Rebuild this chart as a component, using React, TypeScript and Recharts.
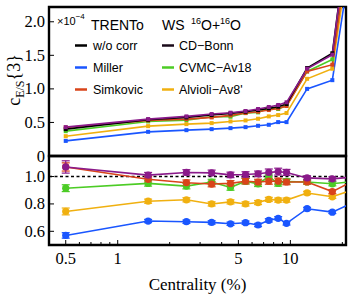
import React from 'react';
import { LineChart, Line, XAxis, YAxis, ReferenceLine, ReferenceArea, ErrorBar } from 'recharts';

// ---------- data ----------
const centrality = [0.5, 1.5, 2.5, 3.5, 4.5, 5.5, 6.5, 7.5, 8.5, 9.5, 12.5, 17.5, 25];

// c_{E/S}{3} (x 1e-4)
const cWoCorr = [0.40, 0.54, 0.575, 0.61, 0.635, 0.66, 0.685, 0.71, 0.735, 0.775, 1.31, 1.53, 4.6];
const cCDBonn = [0.43, 0.55, 0.59, 0.625, 0.645, 0.67, 0.70, 0.73, 0.76, 0.80, 1.30, 1.51, 4.6];
const cSimkovic = [0.425, 0.53, 0.55, 0.575, 0.605, 0.64, 0.66, 0.685, 0.71, 0.745, 1.26, 1.36, 4.3];
const cCVMC = [0.37, 0.515, 0.535, 0.585, 0.585, 0.64, 0.65, 0.71, 0.70, 0.75, 1.26, 1.44, 4.3];
const cAlvioli = [0.295, 0.445, 0.475, 0.49, 0.515, 0.53, 0.555, 0.59, 0.61, 0.64, 1.15, 1.30, 4.0];
const cMiller = [0.225, 0.36, 0.385, 0.40, 0.415, 0.43, 0.45, 0.465, 0.505, 0.505, 1.00, 1.13, 3.7];

// ratio to w/o corr
const rCDBonn = [1.07, 1.01, 1.03, 1.027, 1.012, 1.015, 1.02, 1.03, 1.036, 1.03, 0.99, 0.983, 1.0];
const rSimkovic = [1.07, 0.98, 0.955, 0.945, 0.95, 0.966, 0.96, 0.966, 0.966, 0.96, 0.96, 0.89, 0.99];
const rCVMC = [0.915, 0.95, 0.93, 0.96, 0.92, 0.966, 0.947, 0.998, 0.95, 0.964, 0.96, 0.947, 0.97];
const rAlvioli = [0.745, 0.82, 0.83, 0.80, 0.815, 0.80, 0.81, 0.833, 0.828, 0.828, 0.88, 0.852, 0.92];
const rMiller = [0.57, 0.675, 0.67, 0.665, 0.655, 0.663, 0.646, 0.68, 0.695, 0.658, 0.765, 0.74, 0.83];

// ratio errors
const eCDBonn = [0.045, 0.02, 0.02, 0.02, 0.02, 0.02, 0.02, 0.025, 0.025, 0.022, 0.015, 0.015, 0.02];
const eSimkovic = [0.03, 0.02, 0.02, 0.02, 0.02, 0.02, 0.02, 0.022, 0.022, 0.02, 0.015, 0.015, 0.02];
const eCVMC = [0.025, 0.02, 0.02, 0.02, 0.02, 0.02, 0.02, 0.02, 0.02, 0.02, 0.015, 0.015, 0.02];
const eAlvioli = [0.025, 0.015, 0.015, 0.015, 0.015, 0.015, 0.015, 0.015, 0.015, 0.015, 0.012, 0.012, 0.015];
const eMiller = [0.02, 0.012, 0.012, 0.012, 0.012, 0.012, 0.012, 0.012, 0.012, 0.012, 0.01, 0.01, 0.012];

const yTicksTop = [0, 0.5, 1.0, 1.5, 2.0];
const yTicksRatio = [0.6, 0.8, 1.0];
const xTicks = [0.4, 0.5, 0.6, 0.7, 0.8, 0.9, 1, 2, 3, 4, 5, 6, 7, 8, 9, 10, 20];
const xLabels = [0.5, 1, 5, 10];

// ---------- styling ----------
const COLORS = {
  woCorr: '#000000',
  cdBonn: '#8a1a8a',
  miller: '#1a56ff',
  simkovic: '#d9441a',
  cvmc: '#4ccc25',
  alvioli: '#f0b010',
};

const series = [
  { key: 'miller', name: 'Miller', color: COLORS.miller, c: cMiller, r: rMiller, e: eMiller },
  { key: 'alvioli', name: "Alvioli\u2212Av8'", color: COLORS.alvioli, c: cAlvioli, r: rAlvioli, e: eAlvioli },
  { key: 'cvmc', name: 'CVMC\u2212Av18', color: COLORS.cvmc, c: cCVMC, r: rCVMC, e: eCVMC },
  { key: 'simkovic', name: 'Simkovic', color: COLORS.simkovic, c: cSimkovic, r: rSimkovic, e: eSimkovic },
  { key: 'woCorr', name: 'w/o corr', color: COLORS.woCorr, c: cWoCorr, r: null as number[] | null, e: null as number[] | null },
  { key: 'cdBonn', name: 'CD\u2212Bonn', color: COLORS.cdBonn, c: cCDBonn, r: rCDBonn, e: eCDBonn },
];

const legendCol1 = [
  { name: 'w/o corr', color: COLORS.woCorr },
  { name: 'Miller', color: COLORS.miller },
  { name: 'Simkovic', color: COLORS.simkovic },
];
const legendCol2 = [
  { name: 'CD\u2212Bonn', color: '#1a0a1a' },
  { name: 'CVMC\u2212Av18', color: COLORS.cvmc },
  { name: "Alvioli\u2212Av8'", color: COLORS.alvioli },
];

const topData = centrality.map((x, i) => {
  const row: any = { x };
  series.forEach((s) => { row[s.key] = s.c[i]; });
  return row;
});

const ratioData = centrality.map((x, i) => {
  const row: any = { x };
  series.forEach((s) => {
    if (s.r && s.e) {
      row[s.key] = s.r[i];
      row[s.key + '_err'] = s.e[i];
    }
  });
  return row;
});

const SERIF = '"Liberation Serif", "Times New Roman", serif';
const SANS = '"Liberation Sans", Arial, sans-serif';
const TICK_FS = 16.5;

const fmt = (v: number) => (v === 0 ? '0' : v.toFixed(1));

const YTick = (props: any) => {
  const { x, y, payload } = props;
  return (
    <g>
      <line x1={x} x2={x + 5} y1={y} y2={y} stroke="#000" strokeWidth={1} />
      <text x={x - 4} y={y} dy={5.5} textAnchor="end" fontFamily={SERIF} fontSize={TICK_FS} fill="#000">
        {fmt(payload.value)}
      </text>
    </g>
  );
};

const XTick = (props: any) => {
  const { x, y, payload } = props;
  const major = xLabels.includes(payload.value);
  return (
    <g>
      <line x1={x} x2={x} y1={y} y2={y - (major ? 5 : 3)} stroke="#000" strokeWidth={1} />
      {major && (
        <text x={x} y={y} dy={19} textAnchor="middle" fontFamily={SERIF} fontSize={TICK_FS} fill="#000">
          {String(payload.value)}
        </text>
      )}
    </g>
  );
};

const squareDot = (color: string) => (p: any) => {
  const { cx, cy, index } = p;
  if (cx == null || cy == null) return <g key={index} />;
  return <rect key={index} x={cx - 2} y={cy - 2} width={4} height={4} fill={color} />;
};

const circleDot = (color: string) => (p: any) => {
  const { cx, cy, index } = p;
  if (cx == null || cy == null) return <g key={index} />;
  return <circle key={index} cx={cx} cy={cy} r={3.6} fill={color} />;
};

const X_DOMAIN: [number, number] = [0.4, 21];
const TOP_Y: [number, number] = [0, 2.22];
const RATIO_Y: [number, number] = [0.5, 1.15];

export default function App() {
  return (
    <div style={{ position: 'absolute', left: 0, top: 0, width: 348, height: 296, background: '#fff' }}>
      <div style={{ position: 'absolute', left: 0, top: 0 }}>
        <LineChart width={348} height={170} data={topData} margin={{ top: 7, right: 2, bottom: 14, left: 0 }}>
          <XAxis
            dataKey="x"
            type="number"
            scale="log"
            domain={X_DOMAIN}
            allowDataOverflow
            ticks={xTicks}
            height={0}
            tick={false}
            axisLine={false}
            tickLine={false}
          />
          <YAxis
            type="number"
            domain={TOP_Y}
            allowDataOverflow
            ticks={yTicksTop}
            width={49}
            axisLine={false}
            tickLine={false}
            tickSize={0}
            tickMargin={0}
            tick={<YTick />}
            interval={0}
          />
          {series.map((s) => (
            <Line
              key={s.key}
              dataKey={s.key}
              stroke={s.color}
              strokeWidth={1.6}
              dot={squareDot(s.color)}
              isAnimationActive={false}
            />
          ))}
          <ReferenceArea x1={X_DOMAIN[0]} x2={X_DOMAIN[1]} y1={TOP_Y[0]} y2={TOP_Y[1]} fill="none" stroke="#000" strokeWidth={2.4} ifOverflow="visible" />
          <text fontFamily={SANS} fill="#000">
            <tspan x={57} y={25} fontSize={11}>{'\u00d710'}</tspan>
            <tspan dy={-6} fontSize={8}>{'\u22124'}</tspan>
          </text>
          <text x={91} y={30} fontFamily={SANS} fontSize={14} fill="#000">TRENTo</text>
          <text fontFamily={SANS} fill="#000" fontSize={14}>
            <tspan x={162} y={30}>WS</tspan>
            <tspan x={191} y={24} fontSize={9}>16</tspan>
            <tspan dy={6} fontSize={14}>O+</tspan>
            <tspan dy={-6} fontSize={9}>16</tspan>
            <tspan dy={6} fontSize={14}>O</tspan>
          </text>
          {legendCol1.map((l, i) => (
            <g key={l.name}>
              <line x1={75} x2={87} y1={45.5 + i * 22} y2={45.5 + i * 22} stroke={l.color} strokeWidth={2.5} />
              <text x={93} y={50 + i * 22} fontFamily={SANS} fontSize={12.5} fill="#000">{l.name}</text>
            </g>
          ))}
          {legendCol2.map((l, i) => (
            <g key={l.name}>
              <line x1={162} x2={174} y1={45.5 + i * 22} y2={45.5 + i * 22} stroke={l.color} strokeWidth={2.5} />
              <text x={179} y={50 + i * 22} fontFamily={SANS} fontSize={12.5} fill="#000">{l.name}</text>
            </g>
          ))}
          <text transform="translate(20,80) rotate(-90)" textAnchor="middle" fontFamily={SERIF} fontSize={18} fill="#000">
            <tspan>c</tspan>
            <tspan dy={4} fontSize={12}>E/S</tspan>
            <tspan dy={-4}>{'{3}'}</tspan>
          </text>
        </LineChart>
      </div>
      <div style={{ position: 'absolute', left: 0, top: 150 }}>
        <LineChart width={348} height={146} data={ratioData} margin={{ top: 6, right: 2, bottom: 0, left: 0 }}>
          <XAxis
            dataKey="x"
            type="number"
            scale="log"
            domain={X_DOMAIN}
            allowDataOverflow
            ticks={xTicks}
            interval={0}
            height={51}
            axisLine={false}
            tickLine={false}
            tickSize={0}
            tickMargin={0}
            tick={<XTick />}
            label={{ value: 'Centrality (%)', position: 'insideBottom', offset: 6, fontFamily: SERIF, fontSize: 17, fill: '#000' }}
          />
          <YAxis
            type="number"
            domain={RATIO_Y}
            allowDataOverflow
            ticks={yTicksRatio}
            width={49}
            axisLine={false}
            tickLine={false}
            tickSize={0}
            tickMargin={0}
            tick={<YTick />}
            interval={0}
          />
          <ReferenceLine y={1} stroke="#000" strokeWidth={1.4} strokeDasharray="3 2.5" />
          {series.filter((s) => s.r).map((s) => (
            <Line
              key={s.key}
              dataKey={s.key}
              stroke={s.color}
              strokeWidth={1.6}
              dot={circleDot(s.color)}
              isAnimationActive={false}
            >
              <ErrorBar dataKey={s.key + '_err'} width={4} stroke={s.color} strokeWidth={1.2} direction="y" />
            </Line>
          ))}
          <ReferenceArea x1={X_DOMAIN[0]} x2={X_DOMAIN[1]} y1={RATIO_Y[0]} y2={RATIO_Y[1]} fill="none" stroke="#000" strokeWidth={2.4} ifOverflow="visible" />
          <text transform="translate(20,204) rotate(-90)" textAnchor="middle" fontFamily={SERIF} fontSize={19} fill="#000">Ratio</text>
        </LineChart>
      </div>
    </div>
  );
}
